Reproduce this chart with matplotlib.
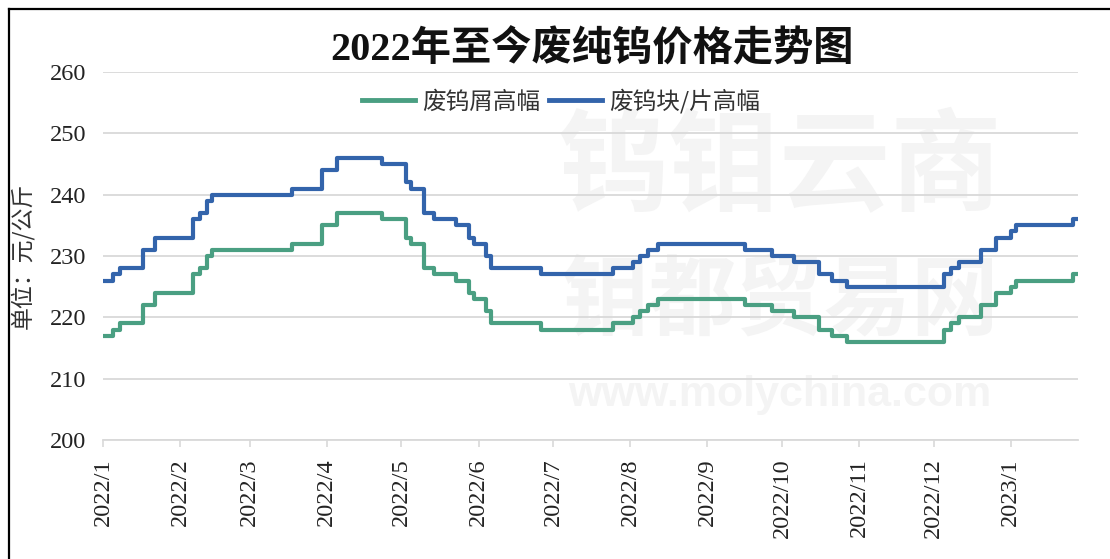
import matplotlib
matplotlib.use("Agg")
import matplotlib.pyplot as plt
from matplotlib.lines import Line2D
import numpy as np

# ---------------- data ----------------
change_dates = ['2022-01-01', '2022-01-05', '2022-01-08', '2022-01-17', '2022-01-22',
                '2022-02-06', '2022-02-09', '2022-02-12', '2022-02-14', '2022-03-18',
                '2022-03-30', '2022-04-05', '2022-04-23', '2022-05-03', '2022-05-05',
                '2022-05-10', '2022-05-14', '2022-05-23', '2022-05-28', '2022-05-30',
                '2022-06-04', '2022-06-06', '2022-06-26', '2022-07-25', '2022-08-02',
                '2022-08-05', '2022-08-08', '2022-08-12', '2022-09-16', '2022-09-27',
                '2022-10-06', '2022-10-16', '2022-10-21', '2022-10-27', '2022-12-05',
                '2022-12-08', '2022-12-11', '2022-12-20', '2022-12-26', '2023-01-01',
                '2023-01-03', '2023-01-26', '2023-01-28']

scrap_high = [217, 218, 219, 222, 224, 227, 228, 230, 231, 232,
              235, 237, 236, 233, 232, 228, 227, 226, 224, 223,
              221, 219, 218, 219, 220, 221, 222, 223, 222, 221,
              220, 218, 217, 216, 218, 219, 220, 222, 224, 225,
              226, 227, 227]

block_high = [226, 227, 228, 231, 233, 236, 237, 239, 240, 241,
              244, 246, 245, 242, 241, 237, 236, 235, 233, 232,
              230, 228, 227, 228, 229, 230, 231, 232, 231, 230,
              229, 227, 226, 225, 227, 228, 229, 231, 233, 234,
              235, 236, 236]

series_names = ['废钨屑高幅', '废钨块/片高幅']
tick_dates = ['2022-01-01', '2022-02-01', '2022-03-01', '2022-04-01', '2022-05-01',
              '2022-06-01', '2022-07-01', '2022-08-01', '2022-09-01', '2022-10-01',
              '2022-11-01', '2022-12-01', '2023-01-01']
tick_labels = ['2022/1', '2022/2', '2022/3', '2022/4', '2022/5', '2022/6', '2022/7',
               '2022/8', '2022/9', '2022/10', '2022/11', '2022/12', '2023/1']
y_ticks = [200, 210, 220, 230, 240, 250, 260]
title = '2022年至今废纯钨价格走势图'
y_label = '单位：元/公斤'
watermark = ['钨钼云商', '钼都贸易网', 'www.molychina.com']

# ---------------- styling ----------------
W, H = 1110, 559
fig = plt.figure(figsize=(W / 100, H / 100), dpi=100)
fig.patch.set_facecolor('white')
ax = fig.add_axes([103 / W, 1 - 440 / H, (1078 - 103) / W, (440 - 72) / H])
ax.set_facecolor('none')

green = '#4a9f82'
blue = '#3364ab'
grid_c = '#d9d9d9'
serif = ['Liberation Serif', 'Noto Sans CJK SC']
cjk = ['Noto Sans CJK SC', 'DejaVu Sans']

x = np.array(change_dates, dtype='datetime64[D]')

# faint watermark behind the data (axes artists, low zorder)
wm = '#f4f4f4'
ax.text(780 / W, 1 - 170 / H, watermark[0], transform=fig.transFigure, family=cjk,
        fontsize=80, fontweight='bold', color=wm, ha='center', va='center', zorder=0)
ax.text(780 / W, 1 - 303 / H, watermark[1], transform=fig.transFigure, family=cjk,
        fontsize=63, fontweight='bold', color=wm, ha='center', va='center', zorder=0)
ax.text(780 / W, 1 - 395 / H, watermark[2], transform=fig.transFigure,
        family=['Liberation Sans'], fontsize=31, fontweight='bold', color=wm,
        ha='center', va='center', zorder=0)

ax.plot(x, scrap_high, drawstyle='steps-post', color=green, lw=3.0,
        solid_joinstyle='round', label=series_names[0], zorder=3)
ax.plot(x, block_high, drawstyle='steps-post', color=blue, lw=3.0,
        solid_joinstyle='round', label=series_names[1], zorder=3)

ax.set_ylim(200, 260)
ax.set_yticks(y_ticks)
ax.set_xlim(np.datetime64('2022-01-01'), np.datetime64('2023-01-28'))
ax.set_xticks(np.array(tick_dates, dtype='datetime64[D]'))
ax.set_xticklabels(tick_labels, rotation=90, family=serif, fontsize=17.5)
for lab in ax.get_yticklabels():
    lab.set_family(serif)
    lab.set_fontsize(17.5)

ax.grid(axis='y', color=grid_c, lw=1.3, zorder=1)
ax.set_axisbelow(True)
for s in ['left', 'right', 'top']:
    ax.spines[s].set_visible(False)
ax.spines['bottom'].set_color(grid_c)
ax.spines['bottom'].set_linewidth(1.3)
ax.tick_params(axis='y', length=0, pad=12, colors='#222222')
ax.tick_params(axis='x', length=5, width=1.2, color=grid_c, pad=8, labelcolor='#222222')

fig.text(592 / W, 1 - 50 / H, title, family=serif, fontsize=29, fontweight='bold',
         ha='center', va='center', color='#111111')
fig.text(22 / W, 1 - 256 / H, y_label, family=cjk, fontsize=16.5, rotation=90,
         ha='center', va='center', color='#333333')

handles = [Line2D([], [], color=green, lw=3.5), Line2D([], [], color=blue, lw=3.5)]
fig.legend(handles, series_names, loc='center', bbox_to_anchor=(561 / W, 1 - 101 / H),
           ncol=2, frameon=False, prop={'family': cjk, 'size': 17},
           handlelength=2.25, handletextpad=0.3, columnspacing=0.4,
           borderpad=0.2, labelcolor='#333333')

# partial outer frame (left and top edges)
fig.add_artist(Line2D([8.5 / W, 8.5 / W], [0, 1 - 9 / H], transform=fig.transFigure,
                      color='black', lw=1.6))
fig.add_artist(Line2D([8.5 / W, 1], [1 - 9 / H, 1 - 9 / H], transform=fig.transFigure,
                      color='black', lw=1.6))

fig.savefig('out.png', dpi=100, facecolor='white')
